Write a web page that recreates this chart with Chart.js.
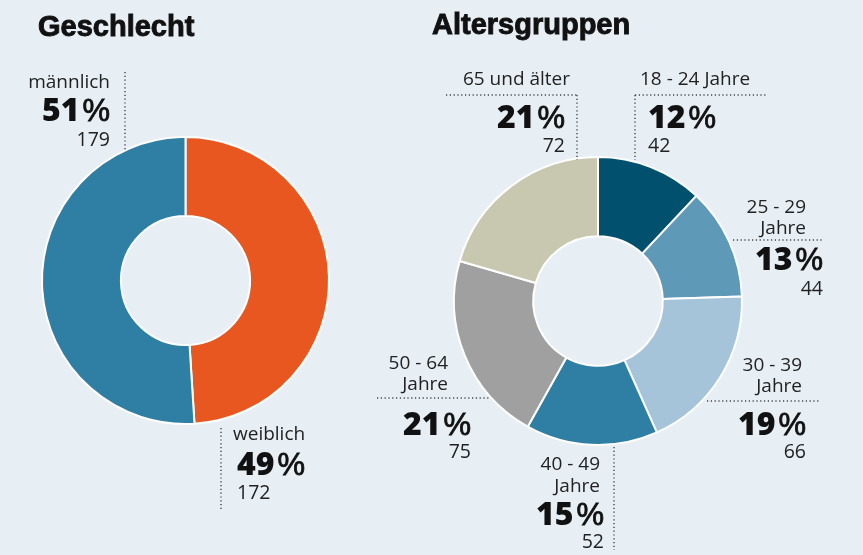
<!DOCTYPE html>
<html><head><meta charset="utf-8">
<script src="https://cdn.jsdelivr.net/npm/chart.js@4/dist/chart.umd.min.js"></script>
<style>
html,body{margin:0;padding:0;background:#e7eef4;width:863px;height:555px;overflow:hidden}
canvas{position:absolute;left:0;top:0}
</style></head><body>
<canvas id="c1" width="863" height="555"></canvas>
<canvas id="c2" width="863" height="555"></canvas>
<script>
// ---- data ----
const genderTitle = 'Geschlecht';
const genderCategories = ['weiblich', 'männlich'];
const genderValues = [172, 179];
const genderPercents = [49, 51];
const genderColors = ['#e8571f', '#2e7fa3'];

const ageTitle = 'Altersgruppen';
const ageCategories = ['18 - 24 Jahre', ['25 - 29', 'Jahre'], ['30 - 39', 'Jahre'], ['40 - 49', 'Jahre'], ['50 - 64', 'Jahre'], '65 und älter'];
const ageValues = [42, 44, 66, 52, 75, 72];
const agePercents = [12, 13, 19, 15, 21, 21];
const ageColors = ['#00506e', '#5f99b8', '#a6c4d9', '#2e7fa3', '#a0a0a0', '#c8c7b0'];

// ---- label layout (positions only) ----
const genderLayout = [
  {align:'left', lx:233, lb:[440], px:237, pb:475, cb:499, lines:[[221,428,221,511]]},
  {align:'right', lx:110, lb:[88], px:110, pb:121, cb:146, lines:[[125,72,125,150]]}
];
const ageLayout = [
  {align:'left', lx:640, lb:[85], px:648, pb:128, cb:152, lines:[[635,95,767,95],[635,95,635,160]]},
  {align:'right', lx:806, lb:[213,234], px:823, pb:270, cb:295, lines:[[733,240,822,240]]},
  {align:'right', lx:802, lb:[371,392], px:806, pb:435, cb:458, lines:[[707,401,820,401]]},
  {align:'right', lx:600, lb:[470,492], px:604, pb:525, cb:548, lines:[[614,447,614,550]]},
  {align:'right', lx:448, lb:[369,390], px:471, pb:435, cb:458, lines:[[377,398,490,398]]},
  {align:'right', lx:570, lb:[85], px:565, pb:128, cb:152, lines:[[446,95,577,95],[577,95,577,160]]}
];

const FONT = '"Open Sans", Lato, sans-serif';
const TFONT = '"Liberation Sans", Arial, sans-serif';

function drawPct(ctx, pct, x, y, align){
  const num = String(pct);
  const fN = '800 32px ' + FONT, fP = '400 31px ' + TFONT;
  ctx.font = fN;
  const wn = ctx.measureText(num).width;
  ctx.font = fP;
  const wp = ctx.measureText('%').width;
  const gap = 3;
  const x0 = align === 'right' ? x - (wn + gap + wp) : x;
  ctx.textAlign = 'left';
  ctx.font = fN;
  ctx.fillText(num, x0, y);
  ctx.font = fP;
  ctx.lineWidth = 0.8;
  ctx.strokeStyle = ctx.fillStyle;
  ctx.fillText('%', x0 + wn + gap, y);
  ctx.strokeText('%', x0 + wn + gap, y);
}

function labelPlugin(title, titlePos, percents, layout){
  return {
    id: 'labels',
    afterDraw(chart){
      const ctx = chart.ctx;
      ctx.save();
      ctx.fillStyle = '#111';
      ctx.strokeStyle = '#111';
      ctx.textBaseline = 'alphabetic';
      ctx.textAlign = 'left';
      ctx.font = 'bold 29px ' + TFONT;
      ctx.lineWidth = 0.9;
      ctx.fillText(title, titlePos[0], titlePos[1]);
      ctx.strokeText(title, titlePos[0], titlePos[1]);
      // dotted leaders
      ctx.strokeStyle = '#444';
      ctx.lineWidth = 1.4;
      ctx.setLineDash([1.2, 2.6]);
      layout.forEach(l => l.lines.forEach(s => {
        ctx.beginPath(); ctx.moveTo(s[0], s[1]); ctx.lineTo(s[2], s[3]); ctx.stroke();
      }));
      ctx.setLineDash([]);
      const labels = chart.data.labels;
      const values = chart.data.datasets[0].data;
      layout.forEach((l, i) => {
        const lab = Array.isArray(labels[i]) ? labels[i] : [labels[i]];
        ctx.fillStyle = '#222';
        ctx.font = '400 19px ' + FONT;
        ctx.textAlign = l.align;
        lab.forEach((t, j) => ctx.fillText(t, l.lx, l.lb[j]));
        ctx.fillStyle = '#111';
        drawPct(ctx, percents[i], l.px, l.pb, l.align);
        ctx.fillStyle = '#222';
        ctx.font = '400 19.5px ' + FONT;
        ctx.textAlign = l.align;
        ctx.fillText(String(values[i]), l.px, l.cb);
      });
      ctx.restore();
    }
  };
}

function makeChart(id, cats, vals, cols, pad, plugin){
  return new Chart(document.getElementById(id), {
    type: 'doughnut',
    data: { labels: cats, datasets: [{ data: vals, backgroundColor: cols, borderColor: '#ffffff', borderWidth: 2, hoverOffset: 0, offset: 0 }] },
    options: {
      responsive: false, animation: false, events: [],
      cutout: '45%', rotation: 0,
      layout: { padding: pad },
      plugins: { legend: { display: false }, tooltip: { enabled: false } }
    },
    plugins: [plugin]
  });
}

makeChart('c1', genderCategories, genderValues, genderColors,
  {left: 41, top: 136, right: 533, bottom: 130},
  labelPlugin(genderTitle, [38, 36], genderPercents, genderLayout));
makeChart('c2', ageCategories, ageValues, ageColors,
  {left: 453, top: 156, right: 120, bottom: 109},
  labelPlugin(ageTitle, [432, 34], agePercents, ageLayout));
</script>
</body></html>
